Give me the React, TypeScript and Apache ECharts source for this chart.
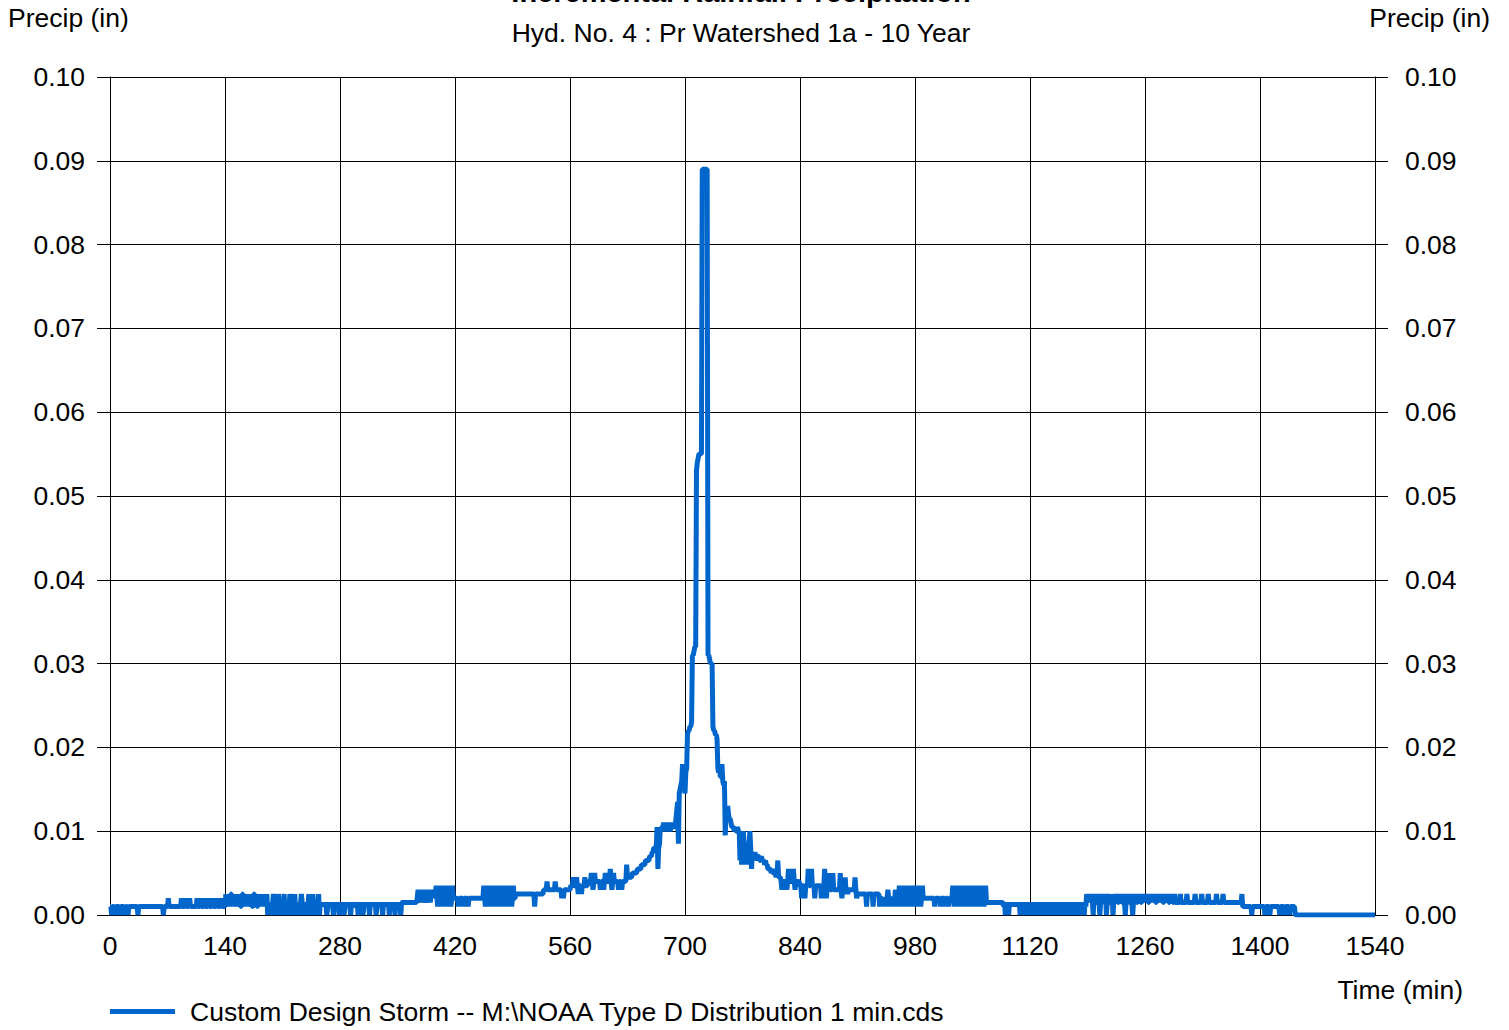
import React, { useEffect, useRef } from "react";
import * as echarts from "echarts";

// ---- Text ----
const TITLE = "Incremental Rainfall Precipitation";
const SUBTITLE = "Hyd. No. 4 : Pr Watershed 1a - 10 Year";
const Y_NAME = "Precip (in)";
const X_NAME = "Time (min)";
const SERIES_NAME = "Custom Design Storm -- M:\\NOAA Type D Distribution 1 min.cds";

// ---- Axes ----
const X_MIN = 0;
const X_MAX = 1540;
const X_STEP = 140;
const Y_MIN = 0;
const Y_MAX = 0.1;
const Y_STEP = 0.01;

// ---- Data ----
// One string per hour, one character per minute; character value (base 36) x 0.0005 in.
// "-" marks minutes whose values are given in PEAK_VALUES.
const CODE_UNIT = 0.0005;
const RAIN_CODES_BY_HOUR = [
  "2202220222" + "2202222202" + "2202222222" + "2222022222" + "2222222222" + "2222222222",
  "2222202222" + "2422222222" + "2222222422" + "2242222422" + "2222224222" + "4222242222",
  "4222242222" + "4222242222" + "2525252552" + "5252525252" + "2552525252" + "5252255252",
  "2525252525" + "2503230235" + "3203253023" + "2350323025" + "3023250323" + "0235302320",
  "3250230523" + "2032503232" + "3232023232" + "3203232320" + "3232302323" + "2320323232",
  "2303232302" + "3232320323" + "2323023232" + "3203232323" + "0323232032" + "3232033333",
  "3333333333" + "3333" + "4646436464" + "3464643646" + "46" + "4742474247" + "4247424742" + "4744",
  "4444244444" + "2444442444" + "4444444444" + "4444" + "4742474247" + "4247424742" + "474247",
  "4247424742" + "4744" + "5555555555" + "5555555555" + "5552555555" + "5555" + "6666866666" + "66",
  "6686666666" + "4646666666" + "6" + "777977797577757779777" + "8888a868a888888688",
  "868a88888b" + "868a888886" + "888688888c" + "999999" + "aaaaaa" + "bbbbb" + "ccccc" + "ddddd" + "eee",
  "ffggfglbgh" + "lkllmllkllmlklllmll" + "nprht" + "--------------------------",
  "--------------------------------------" + "llklkklkk" + "dichkhghcgghk",
  "gbf" + "eefeedeedd" + "edddcdc" + "cbbbbabaaaa9ad999" + "8688888" + "68b88888b8688888",
  "7747774777" + "b777b77747" + "7777774777" + "b74666a666" + "a66666666a" + "6466696656",
  "6666666964" + "5555555555" + "5255555552" + "5555555244" + "4242444642" + "4424426462",
  "4742474247" + "4247424742" + "4742474247" + "4444444444" + "4444244444" + "4244444244",
  "42444" + "4742474247" + "4247424742" + "4742474247" + "4247424742" + "47" + "3333333333" + "333",
  "3333333" + "323" + "0" + "323" + "0" + "3232323232323" + "0323230323" + "2303232303" + "2323032323" + "03",
  "2323032323" + "0323230323" + "2303232303" + "2323032323" + "0323230325" + "3535353053",
  "5335303535" + "3350353333" + "5033535335" + "3533530353" + "5335303535" + "3353533535",
  "3535335353" + "5353353535" + "3533535353" + "3535335333" + "3335333333" + "3533333333",
  "3533333335" + "3333333533" + "3333333533" + "3333353333" + "3333333333" + "3333333352",
  "2222222222" + "0222222222" + "2222220222" + "2202222222" + "2222022222" + "0222220222",
];
const END_CODES = "222"; // minutes 1440-1442

const PEAK_START = 694;
const PEAK_VALUES = [
  0.015, 0.0155, 0.016, 0.018, 0.0165, 0.016, 0.0145, 0.017, 0.0175,
  0.0215, 0.022, 0.022, 0.0225, 0.0225, 0.023,
  0.031, 0.031, 0.0315, 0.032, 0.032,
  0.053, 0.054, 0.0545, 0.055, 0.055, 0.055, 0.055,
  0.089, 0.089, 0.089, 0.089, 0.089, 0.089, 0.089,
  0.031, 0.031, 0.0305, 0.03, 0.03, 0.03,
  0.0225, 0.022, 0.022, 0.0215, 0.0215, 0.021,
  0.0175, 0.017, 0.0175, 0.0165, 0.0165, 0.018, 0.016, 0.0155, 0.016, 0.0095,
  0.0125, 0.0125, 0.013, 0.012, 0.0115, 0.0115, 0.011, 0.0105,
];
const TAIL_POINTS: [number, number][] = [
  [1443, 0],
  [1540, 0],
];

const FONT = '"Liberation Sans", Arial, Helvetica, sans-serif';
const FONT_SIZE = 26.5;
const BLUE = "#0066cc";

function buildData(): [number, number][] {
  const vals: number[] = [];
  RAIN_CODES_BY_HOUR.forEach((s, h) => {
    for (let i = 0; i < 60; i++) {
      const ch = s[i] ?? s[s.length - 1];
      vals[h * 60 + i] = parseInt(ch, 36) * CODE_UNIT;
    }
  });
  for (let i = 0; i < END_CODES.length; i++) {
    vals[1440 + i] = parseInt(END_CODES[i], 36) * CODE_UNIT;
  }
  PEAK_VALUES.forEach((v, i) => {
    vals[PEAK_START + i] = v;
  });
  const pts: [number, number][] = vals.map((v, t) => [t, Number((isNaN(v) ? 0 : v).toFixed(5))]);
  TAIL_POINTS.forEach((p) => pts.push(p));
  return pts;
}

export default function App() {
  const ref = useRef<HTMLDivElement>(null);
  useEffect(() => {
    if (!ref.current) return;
    const chart = echarts.init(ref.current, undefined, { renderer: "svg" });
    const axisColor = "#000";
    const yAxisCommon = {
      type: "value" as const,
      min: Y_MIN,
      max: Y_MAX,
      interval: Y_STEP,
      axisLine: { show: true, lineStyle: { color: axisColor, width: 1 } },
      axisTick: { show: true, inside: false, length: 13, lineStyle: { color: axisColor, width: 1 } },
    };
    const textEl = (x: number, y: number, text: string, align: string, vAlign: string, font: string) => ({
      type: "text",
      x,
      y,
      style: {
        text,
        fill: "#000",
        font,
        textAlign: align,
        textVerticalAlign: vAlign,
        align,
        verticalAlign: vAlign,
      },
    });
    chart.setOption({
      animation: false,
      backgroundColor: "#fff",
      textStyle: { fontFamily: FONT },
      grid: { left: 110, right: 134, top: 77, bottom: 115, containLabel: false },
      xAxis: {
        type: "value",
        min: X_MIN,
        max: X_MAX,
        interval: X_STEP,
        axisLine: { show: true, lineStyle: { color: axisColor, width: 1 } },
        axisTick: { show: false },
        splitLine: { show: true, lineStyle: { color: axisColor, width: 1 } },
        axisLabel: {
          fontSize: FONT_SIZE,
          color: "#000",
          margin: 17,
          fontFamily: FONT,
          formatter: (v: number) => String(v),
        },
      },
      yAxis: [
        {
          ...yAxisCommon,
          position: "left",
          splitLine: { show: true, lineStyle: { color: axisColor, width: 1 } },
          axisLabel: {
            fontSize: FONT_SIZE,
            color: "#000",
            margin: 25,
            fontFamily: FONT,
            formatter: (v: number) => v.toFixed(2),
          },
        },
        {
          ...yAxisCommon,
          position: "right",
          splitLine: { show: false },
          axisLabel: {
            fontSize: FONT_SIZE,
            color: "#000",
            margin: 30,
            fontFamily: FONT,
            formatter: (v: number) => v.toFixed(2),
          },
        },
      ],
      legend: {
        left: 110,
        top: 998,
        padding: 0,
        icon: "rect",
        itemWidth: 65,
        itemHeight: 5,
        selectedMode: false,
        textStyle: { fontSize: FONT_SIZE, color: "#000", fontFamily: FONT, padding: [0, 0, 0, 10] },
        data: [{ name: SERIES_NAME, icon: "rect" }],
      },
      graphic: [
        textEl(741, 6, TITLE, "center", "bottom", `bold 29px ${FONT}`),
        textEl(741, 33, SUBTITLE, "center", "middle", `${FONT_SIZE}px ${FONT}`),
        textEl(8, 18, Y_NAME, "left", "middle", `${FONT_SIZE}px ${FONT}`),
        textEl(1490, 18, Y_NAME, "right", "middle", `${FONT_SIZE}px ${FONT}`),
        textEl(1463, 990, X_NAME, "right", "middle", `${FONT_SIZE}px ${FONT}`),
      ],
      series: [
        {
          name: SERIES_NAME,
          type: "line",
          data: buildData(),
          yAxisIndex: 0,
          showSymbol: false,
          symbol: "none",
          silent: true,
          lineStyle: { color: BLUE, width: 5 },
          itemStyle: { color: BLUE },
        },
      ],
    });
    return () => chart.dispose();
  }, []);
  return (
    <div
      ref={ref}
      style={{ position: "absolute", left: 0, top: 0, width: 1509, height: 1030 }}
    />
  );
}
